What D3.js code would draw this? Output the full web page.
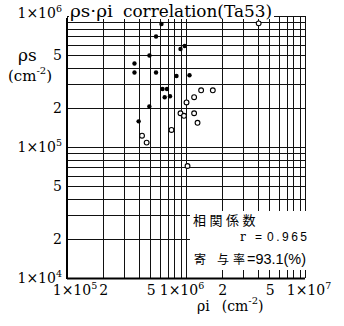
<!DOCTYPE html>
<html>
<head>
<meta charset="utf-8">
<script src="https://cdn.jsdelivr.net/npm/d3@7"></script>
<style>
  html, body { margin: 0; padding: 0; background: #fff; }
  svg { display: block; }
  .serif { font-family: "DejaVu Serif", "Liberation Serif", serif; }
  .sans { font-family: "Liberation Sans", "DejaVu Sans", sans-serif; }
  .cjk { font-family: "Noto Sans CJK JP", sans-serif; }
</style>
</head>
<body>
<svg id="chart" width="344" height="326"></svg>
<script>
// ρi (induced track density) and ρs (spontaneous track density), cm^-2
const filledRhoI = [6.22e5, 5.60e5, 4.93e5, 3.69e5, 3.69e5, 5.60e5, 8.32e5, 1.07e6,
                    8.99e5, 9.75e5, 6.35e5, 6.92e5, 6.62e5, 7.34e5, 4.92e5, 4.00e5];
const filledRhoS = [8.69e5, 6.98e5, 4.99e5, 4.34e5, 3.70e5, 3.70e5, 3.48e5, 3.53e5,
                    5.60e5, 5.90e5, 2.77e5, 2.77e5, 2.40e5, 2.44e5, 2.04e5, 1.57e5];
const openRhoI = [4.27e5, 4.67e5, 7.55e5, 8.99e5, 9.62e5, 1.01e6, 1.17e6, 1.17e6,
                  1.25e6, 1.34e6, 1.68e6, 1.03e6, 4.08e6];
const openRhoS = [1.22e5, 1.08e5, 1.35e5, 1.81e5, 1.73e5, 2.19e5, 2.40e5, 1.81e5,
                  1.53e5, 2.71e5, 2.71e5, 7.16e4, 8.79e5];

const xTickValues = [1e5, 2e5, 5e5, 1e6, 2e6, 5e6, 1e7];
const xTickLabels = ["1×10^5", "2", "5", "1×10^6", "2", "5", "1×10^7"];
const yTickValues = [1e4, 2e4, 5e4, 1e5, 2e5, 5e5, 1e6];
const yTickLabels = ["1×10^4", "2", "5", "1×10^5", "2", "5", "1×10^6"];

const titleParts = ["ρs·ρi", "correlation(Ta53)"];
const statHeading = "相関係数";
const statR = "0.965";
const statContribution = ["寄", "与", "率"];
const statContributionValue = "93.1(%)";

(function draw() {
  const svg = d3.select("#chart");
  const pLeft = 67, pRight = 305, pTop = 16, pBottom = 278;

  const x = d3.scaleLog().domain([1e5, 1e7]).range([pLeft, pRight]);
  const y = d3.scaleLog().domain([1e4, 1e6]).range([pBottom, pTop]);

  // log-paper grid: 1..9 in each decade
  const gridX = [], gridY = [];
  [1e5, 1e6].forEach(d => { for (let k = 1; k <= 9; k++) gridX.push(k * d); });
  gridX.push(1e7);
  [1e4, 1e5].forEach(d => { for (let k = 1; k <= 9; k++) gridY.push(k * d); });
  gridY.push(1e6);

  const grid = svg.append("g").attr("stroke", "#111").attr("shape-rendering", "crispEdges");
  grid.selectAll("line.v").data(gridX).join("line")
    .attr("x1", d => Math.round(x(d)) + 0.5).attr("x2", d => Math.round(x(d)) + 0.5)
    .attr("y1", pTop).attr("y2", pBottom)
    .attr("stroke-width", 1);
  grid.selectAll("line.h").data(gridY).join("line")
    .attr("y1", d => Math.round(y(d)) + 0.5).attr("y2", d => Math.round(y(d)) + 0.5)
    .attr("x1", pLeft).attr("x2", pRight)
    .attr("stroke-width", 1);

  // heavier axis lines
  svg.append("line").attr("x1", pLeft).attr("x2", pLeft).attr("y1", pTop + 2).attr("y2", pBottom + 1)
    .attr("stroke", "#000").attr("stroke-width", 2);
  svg.append("line").attr("x1", pLeft).attr("x2", pRight).attr("y1", pBottom + 0.5).attr("y2", pBottom + 0.5)
    .attr("stroke", "#000").attr("stroke-width", 2);

  // blank panels behind the title and the statistics block
  svg.append("rect").attr("x", pLeft + 2).attr("y", 0).attr("width", 205).attr("height", pTop + 3).attr("fill", "#fff");
  svg.append("rect").attr("x", 190).attr("y", 211).attr("width", 118).attr("height", 59).attr("fill", "#fff");

  // helper: "a^b" -> text with superscript
  function writeSup(sel, label, size) {
    const parts = label.split("^");
    sel.append("tspan").text(parts[0]);
    if (parts.length > 1) {
      sel.append("tspan").attr("font-size", size * 0.68).attr("dy", -size * 0.45).text(parts[1]);
    }
  }

  // y tick labels
  svg.append("g").selectAll("text").data(yTickValues).join("text")
    .attr("class", "serif")
    .attr("font-size", 14)
    .attr("text-anchor", "end")
    .attr("x", 62)
    .attr("y", (d, i) => i === yTickValues.length - 1 ? y(d) + 2 : y(d) + 5)
    .each(function (d, i) { writeSup(d3.select(this), yTickLabels[i], 14); });

  // x tick labels
  const xNudge = [8, 1, 1, -4, 1, 1, 4];
  svg.append("g").selectAll("text").data(xTickValues).join("text")
    .attr("class", "serif")
    .attr("font-size", 14)
    .attr("text-anchor", "middle")
    .attr("x", (d, i) => x(d) + xNudge[i])
    .attr("y", 295)
    .each(function (d, i) { writeSup(d3.select(this), xTickLabels[i], 14); });

  // title
  svg.append("text").attr("class", "serif").attr("font-size", 16)
    .attr("x", 70).attr("y", 17).attr("textLength", 43).attr("lengthAdjust", "spacingAndGlyphs")
    .text(titleParts[0]);
  svg.append("text").attr("class", "serif").attr("font-size", 16)
    .attr("x", 123).attr("y", 17).attr("textLength", 149).attr("lengthAdjust", "spacingAndGlyphs")
    .text(titleParts[1]);

  // y axis title
  svg.append("text").attr("class", "serif").attr("font-size", 17)
    .attr("x", 18).attr("y", 61).text("ρs");
  const yUnit = svg.append("text").attr("class", "serif").attr("font-size", 15).attr("x", 8).attr("y", 81);
  yUnit.append("tspan").text("(cm");
  yUnit.append("tspan").attr("font-size", 10).attr("dy", -7).text("-2");
  yUnit.append("tspan").attr("dy", 7).text(")");

  // x axis title
  const xUnit = svg.append("text").attr("class", "serif").attr("font-size", 14).attr("x", 197).attr("y", 311);
  xUnit.append("tspan").text("ρi");
  xUnit.append("tspan").attr("dx", 12).text("(cm");
  xUnit.append("tspan").attr("font-size", 10).attr("dy", -7).text("-2");
  xUnit.append("tspan").attr("dy", 7).text(")");

  // statistics block
  svg.append("text").attr("class", "cjk").attr("font-size", 13)
    .attr("x", 193).attr("y", 225).attr("letter-spacing", 3.5).text(statHeading);
  svg.append("text").attr("class", "serif").attr("font-size", 12)
    .attr("x", 240).attr("y", 241).text("r");
  svg.append("text").attr("class", "sans").attr("font-size", 12)
    .attr("x", 255).attr("y", 241).text("=");
  svg.append("text").attr("class", "sans").attr("font-size", 12)
    .attr("x", 267).attr("y", 241).attr("textLength", 40).attr("lengthAdjust", "spacing")
    .text(statR);
  const cjkX = [194, 217, 233];
  statContribution.forEach((c, i) => {
    svg.append("text").attr("class", "cjk").attr("font-size", 12)
      .attr("x", cjkX[i]).attr("y", 264).text(c);
  });
  svg.append("text").attr("class", "sans").attr("font-size", 14)
    .attr("x", 247).attr("y", 264).attr("textLength", 59).attr("lengthAdjust", "spacingAndGlyphs")
    .text("=" + statContributionValue);

  // data points
  const filled = d3.zip(filledRhoI, filledRhoS);
  const open = d3.zip(openRhoI, openRhoS);
  svg.append("g").selectAll("circle").data(filled).join("circle")
    .attr("cx", d => x(d[0])).attr("cy", d => y(d[1])).attr("r", 2.2)
    .attr("fill", "#000");
  svg.append("g").selectAll("circle").data(open).join("circle")
    .attr("cx", d => x(d[0])).attr("cy", d => y(d[1])).attr("r", 2.4)
    .attr("fill", "#fff").attr("stroke", "#000").attr("stroke-width", 1.1);
})();
</script>
</body>
</html>
